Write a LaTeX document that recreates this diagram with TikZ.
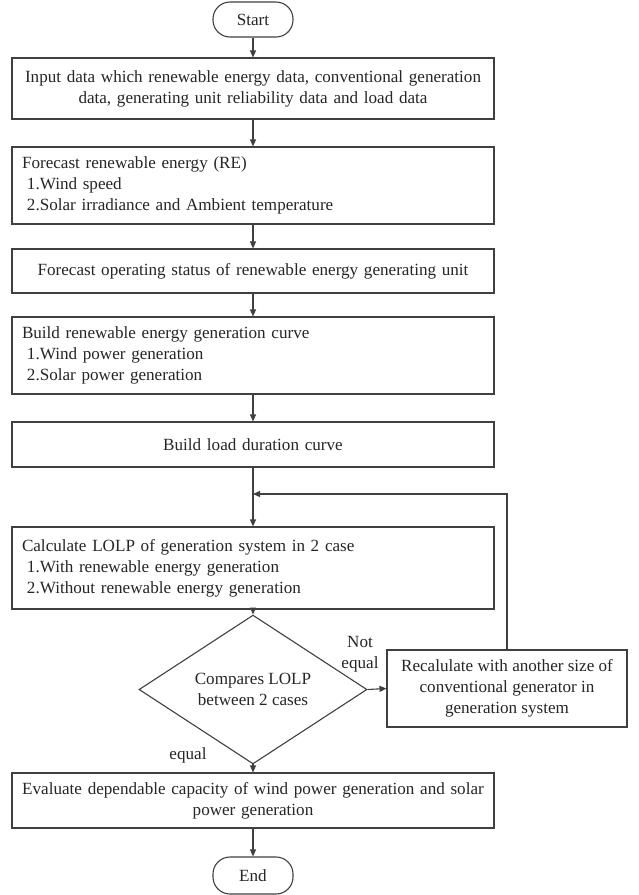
\documentclass[tikz,border=0pt]{standalone}
\usepackage{fontspec}
\setmainfont{Liberation Serif}
\usetikzlibrary{arrows.meta,shapes.geometric}
\begin{document}
\begin{tikzpicture}[x=1pt,y=-1pt,
  every node/.style={font=\fontsize{17.1}{21}\selectfont, text=black!85},
  ln/.style={draw=black!75, line width=1.1pt},
  arr/.style={ln, -{Triangle[length=7pt,width=6pt]}},
  box/.style={ln, rectangle, minimum width=482pt, inner xsep=10pt, inner ysep=0pt},
  lbox/.style={box, text width=462pt, align=left},
  cbox/.style={box, text width=462pt, align=center},
  term/.style={ln, rectangle, rounded corners=17pt, minimum width=80pt, inner sep=0pt},
  dec/.style={ln, diamond, minimum width=228pt, minimum height=113pt, inner sep=0pt, align=center},
  lab/.style={align=center, inner sep=0pt}
]
\useasboundingbox[fill=white] (0,0) rectangle (638,895);

\node[term, minimum height=35pt] (start) at (253,19.5) {Start};
\node[cbox, minimum height=61pt] (b1) at (253,88.5) {Input data which renewable energy data, conventional generation\\data, generating unit reliability data and load data};
\node[lbox, minimum height=77pt] (b2) at (253,185.5) {Forecast renewable energy (RE)\\\hspace*{5pt}1.Wind speed\\\hspace*{5pt}2.Solar irradiance and Ambient temperature};
\node[cbox, minimum height=44pt] (b3) at (253,271) {Forecast operating status of renewable energy generating unit};
\node[lbox, minimum height=77pt] (b4) at (253,355.5) {Build renewable energy generation curve\\\hspace*{5pt}1.Wind power generation\\\hspace*{5pt}2.Solar power generation};
\node[cbox, minimum height=45pt] (b5) at (253,444.5) {Build load duration curve};
\node[lbox, minimum height=82pt] (b6) at (253,568) {Calculate LOLP of generation system in 2 case\\\hspace*{5pt}1.With renewable energy generation\\\hspace*{5pt}2.Without renewable energy generation};
\node[dec] (dia) at (253,689.5) {Compares LOLP\\between 2 cases};
\node[ln, rectangle, minimum width=240pt, minimum height=77pt, inner sep=0pt, align=center] (rec) at (507,688.5) {Recalulate with another size of\\conventional generator in\\generation system};
\node[cbox, minimum height=55pt] (b7) at (253,800.5) {Evaluate dependable capacity of wind power generation and solar\\power generation};
\node[term, minimum height=37pt] (end) at (253,875.5) {End};

\node[lab] (ne) at (360,654) {Not\\equal};
\node[lab] (eq) at (188,755) {equal};

\coordinate (j) at (253,494);

\draw[arr] (start) -- (b1);
\draw[arr] (b1) -- (b2);
\draw[arr] (b2) -- (b3);
\draw[arr] (b3) -- (b4);
\draw[arr] (b4) -- (b5);
\draw[arr] (b5) -- (b6);
\draw[arr] (rec.north) |- (j);
\draw[arr] (b6) -- (dia);
\draw[arr] (dia.east) -- (rec.west);
\draw[arr] (dia) -- (b7);
\draw[arr] (b7) -- (end);
\end{tikzpicture}
\end{document}
